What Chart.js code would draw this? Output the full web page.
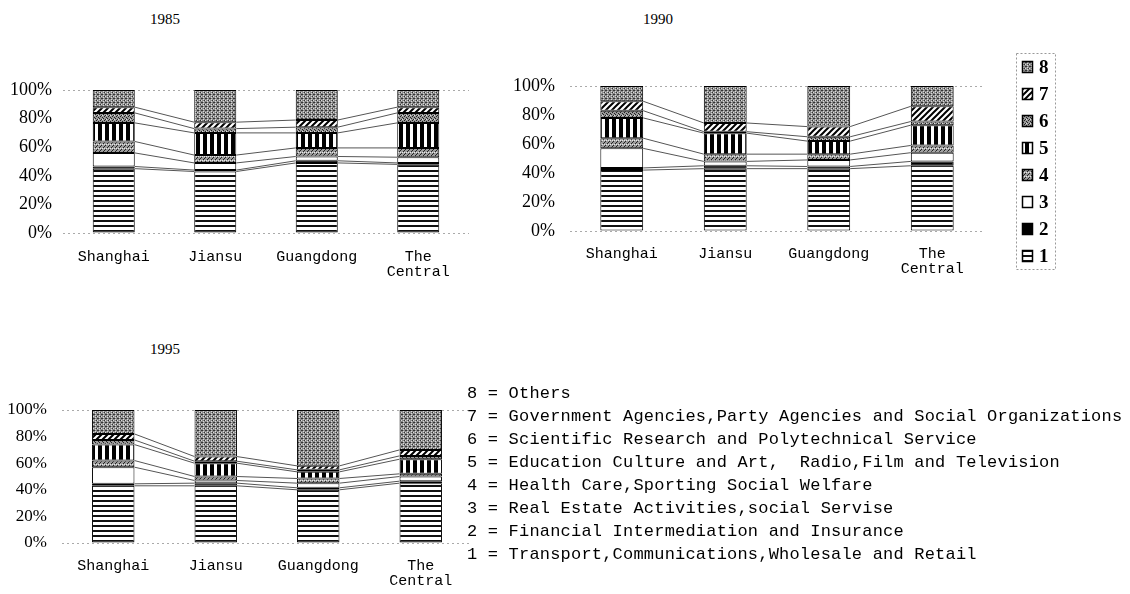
<!DOCTYPE html>
<html>
<head>
<meta charset="utf-8">
<script src="https://cdn.jsdelivr.net/npm/chart.js@4.4.1/dist/chart.umd.min.js"></script>
<style>
  body { margin: 0; background: #fff; width: 1130px; height: 594px; position: relative; overflow: hidden; }
  canvas { position: absolute; }
  .title { position: absolute; font: 15px "Liberation Serif", serif; transform: translate(-50%, -50%); color: #000; }
  #notes { position: absolute; left: 467px; top: 382px; font: 17px "Liberation Mono", monospace; line-height: 23px; white-space: pre; color: #000; letter-spacing: 0.2px; }
</style>
</head>
<body>
<div class="title" style="left:165px;top:19px">1985</div>
<div class="title" style="left:658px;top:19px">1990</div>
<div class="title" style="left:165px;top:349px">1995</div>
<canvas id="c1985" width="480" height="300" style="left:0;top:0"></canvas>
<canvas id="c1990" width="570" height="300" style="left:500px;top:0"></canvas>
<canvas id="c1995" width="480" height="274" style="left:0;top:320px"></canvas>
<div id="notes"></div>

<script>
// ---- data ----
const regions = ['Shanghai', 'Jiansu', 'Guangdong', ['The', 'Central']];
const sectorCodes = ['1', '2', '3', '4', '5', '6', '7', '8'];
const sectorNames = [
  'Transport,Communications,Wholesale and Retail',
  'Financial Intermediation and Insurance',
  'Real Estate Activities,social Servise',
  'Health Care,Sporting Social Welfare',
  'Education Culture and Art,  Radio,Film and Television',
  'Scientific Research and Polytechnical Service',
  'Government Agencies,Party Agencies and Social Organizations',
  'Others'
];

// rows = sector 1..8, columns = regions (percent of employment)
const share1985 = [
  [45, 43, 49, 48],
  [1.5, 1, 1.5, 1],
  [9.5, 5, 3, 4],
  [8, 5.5, 6, 6.5],
  [13, 15.5, 10.5, 17.5],
  [7, 3, 4, 7],
  [4, 4.5, 5, 4],
  [12, 22.5, 21, 12]
];
const share1990 = [
  [42, 43, 43, 45],
  [1.5, 2, 1.5, 3],
  [13.5, 3, 4.5, 6],
  [7, 5, 4, 5],
  [14, 14.5, 9, 14],
  [5, 1, 3, 2.5],
  [6.5, 6, 7, 10.5],
  [10.5, 25.5, 28, 14]
];
const share1995 = [
  [43, 43, 40, 45],
  [1.5, 2, 1.5, 1.5],
  [12.5, 2, 3.5, 3.5],
  [5, 3, 3.5, 2],
  [12, 10, 5, 11],
  [3.5, 1.5, 1.5, 2.5],
  [4.5, 3.5, 3, 4.5],
  [18, 35, 42, 30]
];

// ---- fill patterns ----
function makePattern(w, h, paint) {
  const c = document.createElement('canvas');
  c.width = w; c.height = h;
  const g = c.getContext('2d');
  paint(g);
  return g.createPattern(c, 'repeat');
}
function dots(g, color, pts) {
  g.fillStyle = color;
  pts.forEach(p => g.fillRect(p[0], p[1], 1, 1));
}

const fills = [
  makePattern(4, 5, g => { g.fillStyle = '#fff'; g.fillRect(0, 0, 4, 5); g.fillStyle = '#111'; g.fillRect(0, 0, 4, 2); }),
  '#000',
  '#fff',
  makePattern(4, 4, g => { g.fillStyle = '#9c9c9c'; g.fillRect(0, 0, 4, 4); dots(g, '#222', [[1, 1], [3, 3], [0, 2]]); dots(g, '#e6e6e6', [[2, 0], [0, 0]]); }),
  makePattern(7, 4, g => { g.fillStyle = '#fff'; g.fillRect(0, 0, 7, 4); g.fillStyle = '#000'; g.fillRect(0, 0, 4, 4); }),
  makePattern(4, 4, g => { g.fillStyle = '#999'; g.fillRect(0, 0, 4, 4); dots(g, '#222', [[0, 0], [2, 1], [1, 3], [3, 2]]); dots(g, '#ddd', [[2, 3]]); }),
  makePattern(6, 6, g => {
    g.fillStyle = '#fff'; g.fillRect(0, 0, 6, 6);
    g.strokeStyle = '#000'; g.lineWidth = 2;
    g.beginPath(); g.moveTo(0, 6); g.lineTo(6, 0); g.moveTo(-1, 1); g.lineTo(1, -1); g.moveTo(5, 7); g.lineTo(7, 5); g.stroke();
  }),
  makePattern(4, 4, g => { g.fillStyle = '#8c8c8c'; g.fillRect(0, 0, 4, 4); dots(g, '#333', [[0, 0], [2, 2], [1, 2]]); dots(g, '#d8d8d8', [[1, 0], [3, 1], [3, 3]]); })
];

// lines joining the top of each segment between neighbouring bars
const seriesLines = {
  id: 'seriesLines',
  afterDatasetsDraw(chart) {
    const ctx = chart.ctx;
    const n = chart.data.datasets.length;
    ctx.save();
    ctx.strokeStyle = '#555';
    ctx.lineWidth = 1;
    for (let d = 0; d < n - 1; d++) {
      const bars = chart.getDatasetMeta(d).data;
      ctx.beginPath();
      for (let i = 0; i < bars.length - 1; i++) {
        ctx.moveTo(bars[i].x + bars[i].width / 2, bars[i].y);
        ctx.lineTo(bars[i + 1].x - bars[i + 1].width / 2, bars[i + 1].y);
      }
      ctx.stroke();
    }
    ctx.restore();
  }
};

// boxed legend 8..1 beside the 1990 chart
const patternLegend = {
  id: 'patternLegend',
  afterDraw(chart, args, opts) {
    if (!opts.show) return;
    const ctx = chart.ctx;
    const sets = chart.data.datasets;
    const n = sets.length;
    ctx.save();
    ctx.strokeStyle = '#999';
    ctx.lineWidth = 1;
    ctx.setLineDash([2, 2]);
    ctx.strokeRect(opts.x - 5.5, opts.y - 13.5, 39, opts.step * (n - 1) + 27);
    ctx.setLineDash([]);
    ctx.font = 'bold 19px "Liberation Serif", serif';
    ctx.textBaseline = 'middle';
    for (let k = 0; k < n; k++) {
      const ds = sets[n - 1 - k];
      const cy = opts.y + k * opts.step;
      ctx.fillStyle = ds.backgroundColor;
      ctx.fillRect(opts.x, cy - 6, 11, 12);
      ctx.strokeStyle = '#000';
      ctx.lineWidth = 1.5;
      ctx.strokeRect(opts.x + 0.5, cy - 5.5, 10, 11);
      ctx.fillStyle = '#000';
      ctx.fillText(ds.label, opts.x + 17, cy + 1);
    }
    ctx.restore();
  }
};

function makeChart(id, shares, box) {
  const datasets = shares.map((row, s) => ({
    label: sectorCodes[s],
    data: row,
    backgroundColor: fills[s],
    borderColor: '#000',
    borderWidth: 1,
    borderSkipped: false,
    categoryPercentage: 1,
    barPercentage: 0.414
  }));
  return new Chart(document.getElementById(id), {
    type: 'bar',
    data: { labels: regions, datasets },
    options: {
      responsive: false,
      animation: false,
      layout: { padding: { top: box.top, right: box.right, left: 0, bottom: 0 } },
      plugins: {
        legend: { display: false },
        tooltip: { enabled: false },
        patternLegend: box.legend || { show: false }
      },
      scales: {
        x: {
          stacked: true,
          grid: { display: false, drawTicks: false },
          border: { display: false },
          ticks: { color: '#000', padding: box.xPad, font: { family: 'Liberation Mono', size: 15, lineHeight: 1 } },
          afterFit: s => { s.height = box.xHeight; }
        },
        y: {
          stacked: true,
          min: 0,
          max: 100,
          grid: {
            drawTicks: false,
            color: c => (c.tick && (c.tick.value === 0 || c.tick.value === 100)) ? '#aaa' : 'rgba(0,0,0,0)'
          },
          border: { display: false, dash: [2, 3] },
          ticks: {
            stepSize: 20,
            color: '#000',
            padding: box.yPad,
            font: { family: 'Liberation Serif', size: box.yFont },
            callback: v => v + '%'
          },
          afterFit: s => { s.width = box.yWidth; }
        }
      }
    },
    plugins: [seriesLines, patternLegend]
  });
}

makeChart('c1985', share1985, { top: 90, right: 11, xHeight: 67, xPad: 17, yWidth: 63, yPad: 11, yFont: 18 });
makeChart('c1990', share1990, { top: 86, right: 86, xHeight: 69, xPad: 16, yWidth: 70, yPad: 15, yFont: 18,
  legend: { show: true, x: 522, y: 67, step: 27 } });
makeChart('c1995', share1995, { top: 90, right: 8, xHeight: 51, xPad: 16, yWidth: 62, yPad: 15, yFont: 17 });

document.getElementById('notes').textContent =
  sectorNames.map((name, i) => sectorCodes[i] + ' = ' + name).reverse().join('\n');
</script>
</body>
</html>
